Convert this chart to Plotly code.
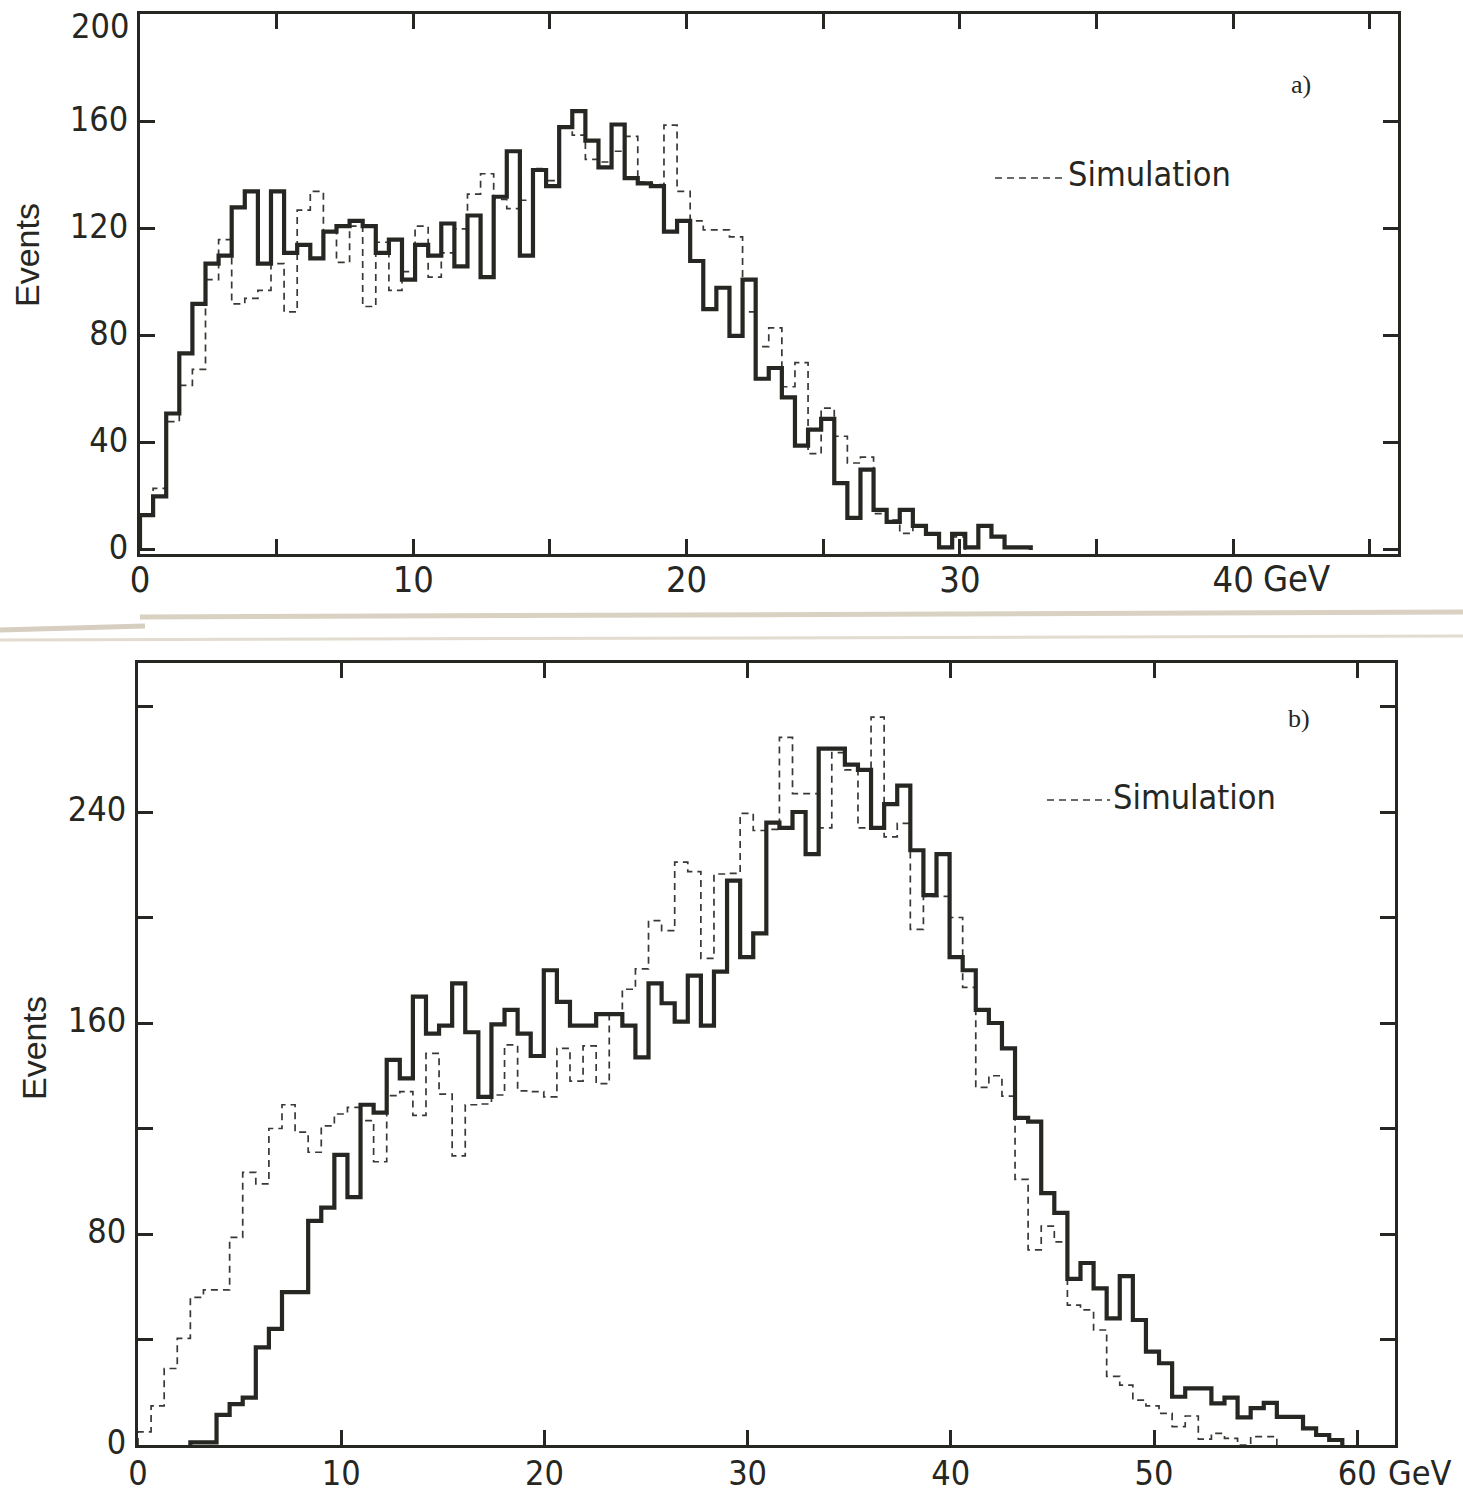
import plotly.graph_objects as go

# ---------------- data: panel a) ----------------
A_BIN_W = 0.4793          # GeV per histogram channel (panel a)
a_data = [13, 20, 51, 73.5, 92, 107, 110, 128, 134, 107, 134, 111, 114, 109, 119, 121,
          123, 121, 111, 116, 101, 114, 110, 122, 106, 125, 102, 132, 149, 110, 142, 136,
          158, 164, 153, 143, 159, 139, 137, 136, 119, 123, 108, 90, 98, 80, 101, 64,
          68, 57, 39, 45, 49, 25, 12, 30, 15, 10.5, 15, 9, 6, 1, 6, 1, 9, 5, 1, 1]
a_sim = [13, 23, 48, 61.5, 67.5, 101, 116, 92, 94, 97, 107, 89, 127, 134, 119, 107.5,
         121, 91, 115, 97, 104, 121, 102, 111, 120, 133, 140.6, 131, 127.6, 130.7, 142.5, 138,
         158.4, 155, 146, 145, 149, 154.6, 137.5, 136.5, 158.8, 134, 123, 119.6, 119.6, 117, 89, 76,
         83, 61, 70, 36, 53, 42.5, 32.5, 34.7, 13.6, 11.2, 6.2, 8.7, 6.2, 1.2, 4.9, 0, 0, 0, 0, 0]

# ---------------- data: panel b) ----------------
B_BIN_W = 0.6442          # GeV per histogram channel (panel b)
b_data = [0, 0, 0, 0, 1, 1, 11.4, 15.5, 18, 37, 44, 58, 58, 85, 90, 110,
          94, 129, 126, 146, 139, 170, 156, 159, 175, 156.5, 132, 159.5, 165, 156, 147.5, 180,
          168, 159, 159, 163.4, 163.4, 159, 147, 175, 167.5, 160.5, 178, 159, 179.5, 214,
          185, 194, 236, 234, 240, 224, 264, 264, 258, 256, 234, 243, 250, 225.5, 208.5, 224,
          185, 180, 165, 160, 150.4, 124, 122.6, 95.5, 88, 63, 69, 59.4, 48, 64, 47.4, 35.4,
          31, 18.3, 21.5, 21.5, 15.8, 18, 10.5, 14, 16, 10.7, 10.7, 6.3, 3.8, 1.9]
b_sim = [5, 14.8, 29, 40.4, 56, 58.8, 58.8, 78.7, 103.4, 99, 120, 129, 118.6, 111, 121, 125.5,
         128, 123, 107.4, 132.5, 134, 125, 148.5, 133, 109.6, 129, 129.3, 132.7, 151.7, 134.3, 134, 132,
         150.4, 138, 151.3, 137, 163.4, 172.8, 180.5, 198.8, 195, 221, 217.4, 184.5, 216.5, 216.7,
         239.5, 233, 233.4, 268.3, 247, 247, 234, 262.5, 256, 234, 276, 230.6, 235.7, 195.5, 208, 208,
         200, 173.5, 135.6, 140, 132.3, 100.7, 74, 83, 77, 53, 51.2, 43.6, 26, 22.7, 17, 14.8,
         12, 7, 11, 2.2, 4.4, 2.5, 0, 3.2, 3.2]

# tick labels
a_xticks = [0, 5, 10, 15, 20, 25, 30, 35, 40, 45]
a_xtext = ["0", "", "10", "", "20", "", "30", "", "40", ""]
a_yticks = [0, 40, 80, 120, 160, 200]
a_ytext = ["0", "40", "80", "120", "160", ""]   # "200" is set just below the frame top (see annotations)
a_top_label = "200"
b_xticks = [0, 10, 20, 30, 40, 50, 60]
b_xtext = ["0", "10", "20", "30", "40", "50", "60"]
b_yticks = [0, 40, 80, 120, 160, 200, 240, 280]
b_ytext = ["0", "", "80", "", "160", "", "240", ""]

W, H = 1463, 1496
INK = "#262622"
NUMFONT = "Liberation Sans Narrow, DejaVu Sans Condensed, Liberation Sans, Arial, sans-serif"


def step_xy(vals, w):
    i0 = 0
    while i0 < len(vals) and vals[i0] == 0:
        i0 += 1
    i1 = len(vals)
    while i1 > i0 and vals[i1 - 1] == 0:
        i1 -= 1
    xs = [i0 * w] + [i * w for i in range(i0, i1 + 1)]
    ys = [0] + list(vals[i0:i1]) + [0]
    return xs, ys


fig = go.Figure()

for vals, w, xa, ya, solid in [
    (a_sim, A_BIN_W, "x", "y", False),
    (a_data, A_BIN_W, "x", "y", True),
    (b_sim, B_BIN_W, "x2", "y2", False),
    (b_data, B_BIN_W, "x2", "y2", True),
]:
    xs, ys = step_xy(vals, w)
    if solid:
        line = dict(shape="hv", color=INK, width=4.2)
    else:
        line = dict(shape="hv", color="#383834", width=1.7, dash="7px,5px")
    fig.add_trace(go.Scatter(x=xs, y=ys, mode="lines", line=line,
                             xaxis=xa, yaxis=ya, showlegend=False,
                             name="Simulation" if not solid else "Data"))


def px(x):
    return x / W


def py(y):
    return 1 - y / H


axis_common = dict(showgrid=False, zeroline=False, showline=True, linecolor=INK,
                   linewidth=3, mirror="ticks", ticks="inside", tickcolor=INK,
                   tickwidth=2.5, ticklen=15, automargin=False,
                   ticklabeloverflow="allow")

fig.update_layout(
    width=W, height=H, margin=dict(l=0, r=0, t=0, b=0, autoexpand=False),
    paper_bgcolor="white", plot_bgcolor="rgba(0,0,0,0)",
    xaxis=dict(domain=[px(140), px(1398)], range=[0, 46.03], anchor="y",
               tickvals=a_xticks, ticktext=a_xtext, ticklabelstandoff=-8,
               tickfont=dict(family=NUMFONT, size=36, color=INK), **axis_common),
    yaxis=dict(domain=[py(554), py(14)], range=[-1.5, 200.3], anchor="x",
               tickvals=a_yticks, ticktext=a_ytext, ticklabelstandoff=2,
               ticklabelshift=-3,
               tickfont=dict(family=NUMFONT, size=34, color=INK), **axis_common),
    xaxis2=dict(domain=[px(138), px(1395)], range=[0, 61.86], anchor="y2",
                tickvals=b_xticks, ticktext=b_xtext, ticklabelstandoff=-4,
                tickfont=dict(family=NUMFONT, size=34, color=INK), **axis_common),
    yaxis2=dict(domain=[py(1445), py(663)], range=[0, 296.5], anchor="x2",
                tickvals=b_yticks, ticktext=b_ytext, ticklabelstandoff=2,
                ticklabelshift=-3,
                tickfont=dict(family=NUMFONT, size=34, color=INK), **axis_common),
)

ann = []


def add_text(text, x, y, size, family=NUMFONT, angle=0, xanchor="center"):
    ann.append(dict(text=text, x=px(x), y=py(y), xref="paper", yref="paper",
                    showarrow=False, textangle=angle, xanchor=xanchor, yanchor="middle",
                    font=dict(family=family, size=size, color=INK)))


add_text(a_top_label, 131, 26, 34, xanchor="right")
add_text("Events", 27, 255, 34, family="Liberation Sans, Arial, sans-serif", angle=-90)
add_text("Events", 34, 1048, 34, family="Liberation Sans, Arial, sans-serif", angle=-90)
add_text("GeV", 1296, 578, 36)
add_text("GeV", 1420, 1473, 34)
add_text("a)", 1301, 85, 26, family="Liberation Serif, DejaVu Serif, serif")
add_text("b)", 1299, 718, 26, family="Liberation Serif, DejaVu Serif, serif")
add_text("Simulation", 1066, 174, 34, xanchor="left")
add_text("Simulation", 1111, 797, 34, xanchor="left")
fig.update_layout(annotations=ann)

shapes = [
    dict(type="line", xref="paper", yref="paper", x0=px(995), x1=px(1064), y0=py(178), y1=py(178),
         line=dict(color="#383834", width=1.7, dash="7px,5px")),
    dict(type="line", xref="paper", yref="paper", x0=px(1047), x1=px(1110), y0=py(800), y1=py(800),
         line=dict(color="#383834", width=1.7, dash="7px,5px")),
    # torn-paper seam between the two panels of the scan
    dict(type="line", xref="paper", yref="paper", x0=0, x1=px(145), y0=py(630), y1=py(626),
         line=dict(color="#d6cebf", width=5)),
    dict(type="line", xref="paper", yref="paper", x0=px(140), x1=1, y0=py(617), y1=py(612),
         line=dict(color="#d9d1c2", width=5)),
    dict(type="line", xref="paper", yref="paper", x0=0, x1=1, y0=py(640), y1=py(636),
         line=dict(color="#e2dbcf", width=3)),
]
fig.update_layout(shapes=shapes)

fig.write_html("out.html",
               config={"displayModeBar": False},
               post_script="document.body.style.margin='0px';"
                           "document.body.style.overflow='hidden';")
